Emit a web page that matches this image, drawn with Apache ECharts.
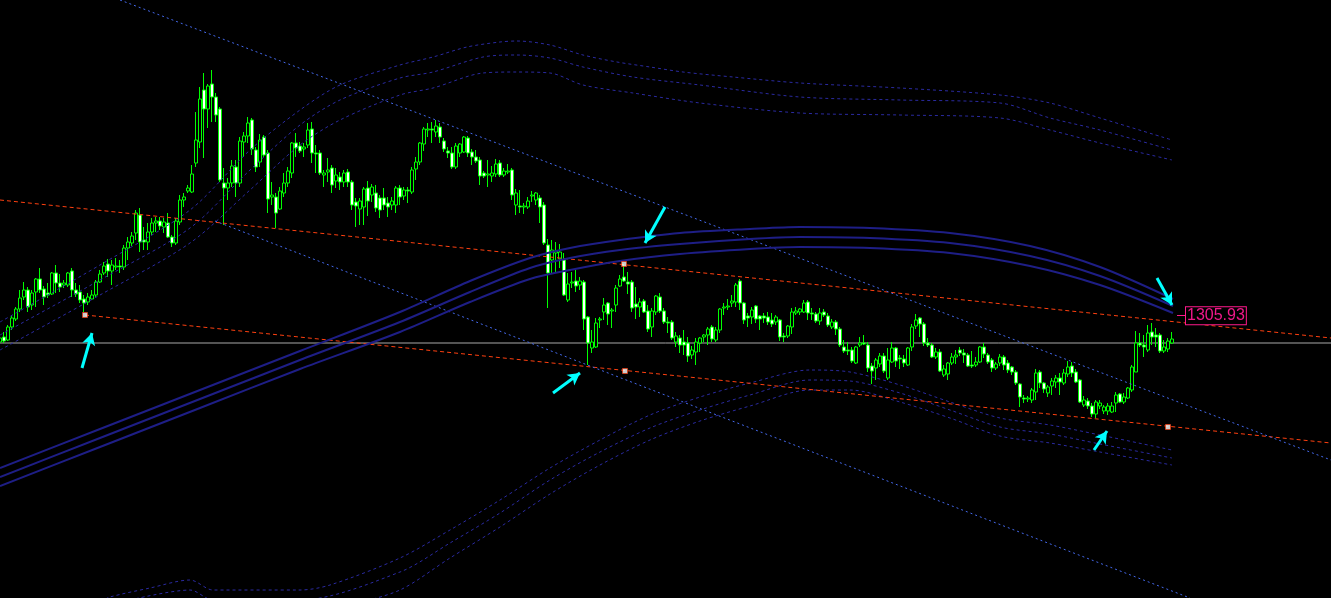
<!DOCTYPE html>
<html><head><meta charset="utf-8">
<script src="https://cdn.jsdelivr.net/npm/echarts@6/dist/echarts.min.js"></script>
<style>html,body{margin:0;padding:0;background:#000;overflow:hidden}#c{width:1331px;height:598px}</style>
</head><body><div id="c"></div>
<script>
// ---- candle data (bar index = position, prices) ----
const opens=[
1303.3,1303.8,1303.5,1304.8,1305.6,1306.6,1307.8,1308.5,1307.0,1308.3,
1309.6,1308.6,1308.2,1308.1,1310.2,1309.2,1309.0,1309.0,1310.4,1308.5,
1308.3,1307.6,1307.3,1307.6,1308.0,1309.3,1310.2,1311.1,1310.4,1310.8,
1310.9,1310.8,1312.7,1313.2,1314.2,1316.0,1313.5,1313.3,1314.3,1315.2,
1315.4,1314.8,1315.2,1313.8,1313.2,1315.3,1317.5,1318.4,1318.3,1321.2,
1323.3,1328.5,1326.6,1329.1,1327.8,1326.6,1319.2,1318.7,1319.2,1320.8,
1319.2,1323.3,1323.9,1325.5,1322.5,1321.3,1323.8,1322.2,1317.8,1317.8,
1316.6,1318.2,1319.2,1320.2,1323.2,1322.9,1322.6,1323.0,1324.6,1322.2,
1322.2,1320.0,1320.3,1320.7,1319.4,1319.8,1319.3,1320.3,1319.3,1317.3,
1316.6,1316.8,1318.7,1318.0,1318.2,1317.7,1317.7,1317.2,1317.0,1317.0,
1318.7,1317.9,1318.5,1318.3,1320.6,1321.3,1323.1,1324.5,1324.6,1324.3,
1324.8,1323.4,1322.4,1322.2,1320.8,1322.2,1322.3,1323.7,1322.3,1321.8,
1321.5,1320.2,1320.0,1319.9,1320.1,1321.2,1320.0,1320.3,1320.5,1317.0,
1316.9,1316.8,1316.8,1317.9,1317.5,1317.7,1317.0,1313.0,1311.5,1312.2,
1311.6,1311.5,1307.5,1309.2,1309.4,1309.0,1309.3,1305.8,1302.7,1302.8,
1305.5,1306.3,1307.2,1306.4,1307.0,1308.9,1309.8,1309.3,1309.3,1307.1,
1306.8,1307.4,1306.4,1304.8,1306.3,1307.8,1306.4,1305.3,1305.3,1303.3,
1303.7,1303.3,1303.2,1302.0,1302.3,1303.2,1303.8,1304.0,1304.8,1303.5,
1304.5,1306.7,1306.8,1307.2,1307.3,1309.4,1307.2,1305.9,1305.8,1306.9,
1305.9,1305.9,1305.8,1305.5,1305.3,1305.5,1303.9,1303.9,1304.8,1306.2,
1306.3,1306.3,1307.3,1306.2,1306.1,1305.4,1306.3,1305.9,1304.8,1305.3,
1304.6,1302.8,1302.5,1302.5,1301.2,1303.0,1303.2,1303.0,1300.9,1300.7,
1301.1,1301.9,1299.7,1301.3,1302.7,1301.7,1301.6,1301.0,1302.8,1304.9,
1305.7,1305.1,1303.2,1303.0,1301.8,1302.3,1300.0,1300.1,1301.2,1301.8,
1302.5,1302.2,1302.0,1301.0,1301.0,1301.3,1302.8,1302.0,1301.5,1300.7,
1301.2,1301.8,1301.2,1300.8,1300.3,1299.1,1297.7,1297.6,1297.5,1298.3,
1300.3,1299.2,1298.2,1298.9,1299.3,1299.7,1299.2,1300.1,1300.9,1300.3,
1299.5,1297.0,1297.4,1296.9,1296.1,1296.9,1296.4,1296.4,1296.3,1297.2,
1298.1,1297.3,1297.7,1298.5,1300.3,1303.2,1303.0,1302.5,1304.3,1304.0,
1304.0,1302.4,1302.6,1303.2];
const closes=[
1303.7,1303.4,1304.8,1305.7,1306.6,1307.7,1308.5,1306.8,1308.2,1309.6,
1308.5,1307.8,1308.0,1310.2,1309.2,1308.8,1309.2,1310.2,1308.5,1308.1,
1307.5,1307.2,1307.8,1308.0,1309.3,1310.1,1310.9,1310.4,1311.0,1310.9,
1310.8,1312.7,1313.3,1313.9,1316.2,1313.3,1313.3,1314.3,1315.2,1315.4,
1314.9,1315.3,1313.8,1313.2,1315.4,1317.5,1317.8,1318.7,1320.1,1323.5,
1327.6,1326.6,1328.9,1327.8,1326.0,1319.5,1318.7,1319.2,1320.9,1319.2,
1323.4,1323.9,1325.2,1322.6,1320.8,1323.5,1322.0,1317.6,1318.0,1316.2,
1318.4,1319.2,1320.4,1323.2,1322.7,1322.4,1322.8,1324.5,1322.2,1322.1,
1320.2,1320.2,1320.5,1319.0,1320.0,1319.3,1320.2,1319.3,1317.0,1316.9,
1317.4,1318.6,1317.4,1318.8,1316.7,1316.5,1317.0,1316.8,1317.4,1318.7,
1317.8,1318.5,1318.4,1320.5,1321.3,1323.2,1324.6,1324.6,1324.5,1324.9,
1323.8,1322.6,1322.2,1320.8,1322.9,1323.1,1323.8,1322.2,1321.8,1321.4,
1319.9,1319.9,1320.1,1320.2,1321.1,1320.0,1320.4,1320.4,1318.0,1318.2,
1316.8,1316.9,1317.4,1318.0,1318.2,1316.8,1313.2,1310.2,1312.5,1312.4,
1312.3,1308.0,1309.1,1309.3,1308.9,1309.4,1305.6,1303.2,1303.3,1305.2,
1305.6,1307.0,1306.1,1306.5,1308.7,1309.6,1309.4,1309.1,1306.7,1306.8,
1307.3,1306.3,1304.6,1306.4,1307.9,1306.4,1305.3,1305.2,1303.7,1303.9,
1303.0,1303.0,1301.9,1302.5,1303.3,1303.7,1304.0,1304.6,1303.6,1304.5,
1306.6,1306.8,1306.9,1307.4,1309.0,1307.2,1305.5,1305.7,1306.5,1305.6,
1305.6,1305.7,1305.3,1305.1,1305.8,1303.8,1303.8,1304.9,1306.3,1306.4,
1306.6,1307.2,1306.2,1306.1,1305.4,1306.2,1306.0,1305.0,1305.3,1304.6,
1303.0,1302.4,1302.4,1301.4,1302.8,1303.2,1303.1,1300.7,1300.4,1301.5,
1301.9,1300.4,1301.5,1302.7,1301.4,1301.6,1301.2,1302.7,1304.8,1305.5,
1305.1,1303.2,1303.0,1301.8,1302.3,1300.4,1300.6,1301.2,1301.8,1302.0,
1302.2,1302.0,1300.9,1300.9,1301.3,1302.8,1302.1,1301.3,1300.7,1301.1,
1301.8,1301.0,1300.5,1300.3,1299.2,1297.8,1297.6,1297.7,1298.5,1300.2,
1299.2,1298.6,1298.8,1299.4,1299.7,1299.3,1300.2,1300.8,1300.2,1299.3,
1297.3,1297.5,1296.9,1296.1,1297.3,1297.2,1296.8,1296.9,1296.9,1298.0,
1297.3,1297.8,1298.7,1300.8,1303.2,1303.0,1302.8,1304.2,1303.8,1303.8,
1302.4,1302.8,1303.4,1303.6];
const highs=[
1303.9,1304.3,1305.0,1305.9,1306.8,1308.5,1309.3,1308.8,1308.5,1309.7,
1310.7,1308.9,1309.2,1310.3,1311.0,1310.1,1309.5,1310.3,1310.7,1309.2,
1309.0,1308.0,1308.2,1308.5,1309.5,1310.5,1311.3,1311.6,1311.5,1311.7,
1311.5,1313.0,1313.8,1314.3,1316.5,1316.7,1314.8,1315.2,1315.7,1315.8,
1315.8,1315.7,1316.2,1314.0,1315.7,1318.0,1318.2,1319.0,1321.0,1326.3,
1328.8,1330.2,1329.1,1330.5,1328.2,1326.8,1320.7,1319.7,1321.5,1321.5,
1323.8,1324.3,1325.8,1325.7,1322.8,1324.1,1324.0,1322.5,1319.3,1318.2,
1318.8,1320.2,1320.8,1323.3,1324.2,1323.3,1323.2,1325.2,1325.3,1323.0,
1322.5,1320.5,1321.7,1321.0,1320.7,1320.3,1320.5,1320.6,1319.5,1317.7,
1317.7,1318.8,1319.4,1319.1,1319.0,1318.0,1318.7,1317.8,1317.8,1318.9,
1319.0,1318.8,1318.8,1320.8,1321.8,1323.3,1324.8,1325.2,1325.3,1325.5,
1325.2,1323.7,1322.8,1322.8,1323.2,1323.2,1323.9,1323.9,1322.6,1322.5,
1321.8,1320.4,1321.5,1320.9,1321.6,1321.5,1320.7,1321.1,1320.7,1318.6,
1318.5,1317.2,1317.8,1318.4,1318.3,1318.0,1317.3,1313.6,1313.5,1313.3,
1313.1,1312.2,1310.2,1310.3,1310.5,1309.8,1309.5,1305.9,1304.5,1305.7,
1305.8,1307.7,1307.3,1306.7,1309.0,1310.0,1311.1,1310.3,1309.5,1308.8,
1307.7,1307.6,1307.0,1306.7,1308.0,1308.2,1306.7,1305.8,1305.5,1304.3,
1304.0,1304.5,1303.8,1302.9,1303.7,1303.8,1304.1,1304.8,1305.0,1304.8,
1306.7,1307.2,1307.6,1308.0,1309.2,1309.6,1307.3,1306.2,1306.8,1307.0,
1306.0,1306.2,1306.3,1306.2,1306.0,1305.6,1304.2,1305.0,1306.7,1306.8,
1306.7,1307.5,1307.5,1306.7,1306.3,1306.7,1306.6,1306.2,1305.6,1305.5,
1304.8,1303.5,1303.3,1302.8,1302.9,1303.8,1304.0,1303.3,1301.2,1301.7,
1302.2,1302.2,1302.7,1303.3,1302.8,1302.0,1302.0,1302.8,1305.1,1306.1,
1305.8,1305.3,1303.7,1303.2,1302.7,1302.6,1301.0,1301.3,1302.2,1302.5,
1302.8,1302.6,1302.2,1302.4,1301.8,1302.9,1303.2,1302.2,1301.7,1301.3,
1302.1,1302.0,1301.5,1300.9,1300.5,1299.2,1298.0,1297.9,1298.7,1300.6,
1300.5,1299.3,1299.0,1299.7,1300.0,1300.2,1300.6,1301.4,1301.3,1300.6,
1299.6,1297.9,1297.7,1297.2,1297.5,1297.5,1297.0,1297.2,1297.3,1298.3,
1298.2,1298.2,1298.8,1301.0,1304.4,1304.2,1304.0,1305.0,1305.2,1304.7,
1304.2,1303.5,1303.7,1304.3];
const lows=[
1303.1,1303.2,1303.4,1304.5,1305.4,1306.3,1307.5,1306.3,1306.5,1306.8,
1308.2,1307.0,1307.7,1308.0,1308.2,1308.3,1308.7,1308.8,1307.8,1307.8,
1307.2,1306.3,1307.0,1307.5,1307.8,1309.2,1310.0,1309.8,1309.0,1310.5,
1310.2,1310.5,1311.5,1312.9,1313.5,1312.3,1312.5,1312.5,1314.0,1314.3,
1314.5,1314.2,1313.7,1312.8,1313.0,1315.0,1316.8,1318.2,1318.2,1320.8,
1322.7,1321.7,1324.7,1325.3,1325.3,1319.3,1315.0,1317.5,1318.8,1317.8,
1318.8,1321.8,1323.2,1322.0,1320.3,1320.8,1321.8,1316.2,1317.0,1314.7,
1316.5,1317.8,1318.8,1319.7,1321.8,1322.2,1321.8,1322.7,1321.2,1320.2,
1320.0,1318.8,1319.3,1318.2,1318.7,1318.5,1318.8,1318.8,1316.5,1314.8,
1315.0,1315.0,1315.9,1317.3,1316.3,1315.7,1316.5,1315.8,1316.5,1316.2,
1317.0,1317.5,1317.2,1318.1,1319.5,1321.0,1322.4,1323.8,1323.2,1323.8,
1323.2,1322.3,1321.7,1320.6,1320.6,1321.8,1322.2,1321.8,1321.0,1321.2,
1319.0,1319.7,1318.8,1319.3,1319.8,1319.8,1319.8,1320.1,1317.5,1316.0,
1316.2,1316.1,1316.6,1317.3,1317.0,1315.2,1313.0,1306.7,1310.2,1310.2,
1310.7,1307.9,1307.3,1308.7,1308.3,1308.5,1304.5,1301.0,1302.2,1302.7,
1304.7,1305.5,1305.0,1304.7,1306.3,1308.8,1309.3,1308.1,1306.3,1305.6,
1305.8,1306.2,1304.3,1303.8,1306.0,1306.2,1305.1,1304.2,1303.5,1302.8,
1302.2,1302.0,1301.3,1301.6,1301.0,1302.3,1303.3,1303.0,1303.3,1303.3,
1304.2,1306.0,1306.5,1306.8,1306.8,1306.5,1305.1,1304.8,1305.1,1305.2,
1304.5,1305.2,1305.0,1304.8,1305.0,1303.4,1303.3,1303.7,1304.1,1306.0,
1306.0,1306.2,1305.5,1305.5,1305.2,1305.0,1305.8,1304.8,1304.6,1304.0,
1302.8,1302.2,1302.0,1301.2,1301.1,1302.8,1303.0,1300.3,1299.1,1299.5,
1300.8,1300.2,1299.5,1301.2,1300.8,1300.6,1300.8,1300.9,1302.4,1304.6,
1303.8,1302.9,1302.8,1301.7,1301.6,1300.3,1299.8,1299.5,1301.0,1301.1,
1301.9,1301.2,1300.8,1300.7,1300.8,1301.2,1301.7,1301.1,1300.3,1300.5,
1300.9,1300.5,1300.2,1300.0,1299.0,1296.8,1297.2,1297.3,1297.2,1297.5,
1298.7,1298.2,1297.8,1298.0,1298.7,1298.0,1299.0,1299.8,1299.8,1299.2,
1297.2,1296.8,1296.6,1295.8,1295.7,1296.6,1296.1,1296.0,1296.2,1296.3,
1297.2,1297.1,1297.6,1298.3,1300.3,1302.8,1301.8,1302.3,1303.0,1302.8,
1302.2,1302.2,1302.3,1303.1];

// ---- indicator envelopes (bar index, price) ----
const bandX=[0,25,50,75,100,117.5,132.5,142.5,155,170,187.5,200,217.5,237.5,257.5,275,293.25];
const bandTop=[1290.7,1294.6,1298.5,1302.4,1306.3,1309.4,1311.7,1312.7,1313.5,1314.2,1314.6,1314.8,1314.7,1314.2,1312.9,1310.8,1307.6];
const bandMid=[1289.8,1293.7,1297.6,1301.5,1305.3,1308.3,1310.7,1311.7,1312.5,1313.1,1313.6,1313.8,1313.7,1313.2,1311.9,1309.9,1306.9];
const bandBot=[1288.9,1292.8,1296.7,1300.6,1304.3,1307.3,1309.6,1310.5,1311.4,1312.1,1312.6,1312.8,1312.7,1312.2,1310.9,1309.0,1306.2];

const upTopX=[0,25,47.5,62.5,75,85,100,108.25,116.75,125,129.25,137.5,145.75,154.25,162.5,170.75,183.25,200,225,250,262.5,275,293];
const upTop=[1305.3,1311.0,1316.5,1322.5,1326.5,1329.0,1331.0,1331.8,1332.8,1333.3,1333.4,1333.0,1332.0,1331.3,1330.8,1330.3,1329.8,1329.2,1328.7,1328.0,1327.2,1325.7,1323.5];
const upX=[0,25,47.5,62.5,75,85,100,108.25,120.75,129.25,137.5,145.75,158.25,175,200,225,250,262.5,275,293];
const upMid=[1304.0,1309.5,1314.7,1320.5,1325.0,1327.5,1329.7,1330.3,1331.8,1332.0,1331.7,1330.8,1329.8,1329.0,1327.8,1327.5,1327.2,1325.7,1324.5,1322.5];
const upBot=[1302.5,1308.0,1313.2,1318.5,1323.0,1325.5,1328.0,1328.7,1330.2,1330.3,1330.2,1329.0,1328.2,1327.2,1326.2,1326.0,1325.7,1324.5,1323.2,1321.5];

const loTopX=[25,27.5,37.5,47.5,53.25,75,82.5,100,112.5,125,137.5,150,162.5,175,187.5,202.5,212.5,225,237.5,250,262.5,275,293];
const loTop=[1277.3,1277.8,1278.7,1279.5,1278.5,1278.5,1279.0,1281.7,1284.5,1287.5,1290.7,1293.5,1296.0,1297.8,1299.2,1300.5,1300.3,1299.0,1297.3,1295.7,1295.0,1294.0,1292.5];
const loMidX=[32.5,47.5,53.25,75,100,112.5,125,137.5,150,162.5,175,187.5,202.5,212.5,225,237.5,250,262.5,275,293];
const loMid=[1277.5,1278.5,1277.5,1277.5,1280.3,1283.2,1286.2,1289.5,1292.3,1294.7,1296.5,1298.0,1299.5,1299.4,1298.2,1296.5,1294.8,1294.1,1293.1,1291.7];
const loBotX=[87.5,100,112.5,125,137.5,150,162.5,175,187.5,202.5,212.5,225,237.5,250,262.5,275,293];
const loBot=[1277.0,1278.5,1281.7,1284.8,1288.1,1291.0,1293.5,1295.4,1296.9,1298.5,1298.5,1297.3,1295.7,1293.9,1293.2,1292.3,1291.0];

// ---- drawn objects ----
const redUpper=[[0,1317.5],[332.75,1303.7]];
const redLower=[[21.25,1306.0],[332.75,1293.2]];
const blueUpper=[[30,1337.5],[332.75,1291.5]];
const blueLower=[[53.75,1315.4],[297.5,1277.7]];
const hLinePrice=1303.2;
const dotX=[21.25,156,156.25,292];
const dotY=[1306.0,1311.1,1300.4,1294.8];
const arrows=[[20.5,1300.7,23,1304.2],[138.25,1298.2,145,1300.2],[166.25,1316.8,161.25,1313.2],[273.5,1292.5,276.75,1294.4],[289.25,1309.7,293,1307.0]];
const priceLabel=1305.93;
const labelX=[294.25,296.5];

const zip=(xs,ys)=>xs.map((x,i)=>[x,ys[i]]);
const n=Math.min(opens.length,closes.length,lows.length,highs.length);
const candles=[];
for(let i=0;i<n;i++) candles.push([i,opens[i],closes[i],lows[i],highs[i]]);

const navy='#1e1e86', navyDot='#2a2aa0', red='#ff4010', blue='#4468ea';
function ln(data,color,width,type,smooth,z){
  return {type:'line',data:data,showSymbol:false,symbol:'none',silent:true,clip:true,smooth:smooth||false,
    lineStyle:{color:color,width:width,type:type},z:z||3,animation:false};
}
const chart=echarts.init(document.getElementById('c'),null,{renderer:'canvas'});
chart.setOption({
  backgroundColor:'#000000',
  animation:false,
  grid:{left:0,right:0,top:0,bottom:0},
  xAxis:{type:'value',min:0,max:332.75,show:false,splitLine:{show:false}},
  yAxis:{type:'value',min:1277.7,max:1337.5,show:false,splitLine:{show:false}},
  series:[
    ln([[0,hLinePrice],[332.75,hLinePrice]],'#a8a8a8',1,'solid',false,1),
    {type:'candlestick',data:candles,barWidth:3,silent:true,z:2,
     encode:{x:0,y:[1,2,3,4]},
     itemStyle:{color:'#000000',color0:'#ffffff',borderColor:'#00ff00',borderColor0:'#00ff00',borderWidth:1}},
    ln(zip(upTopX,upTop),navyDot,1,[3,3],0.3),
    ln(zip(upX,upMid),navyDot,1,[3,3],0.3),
    ln(zip(upX,upBot),navyDot,1,[3,3],0.3),
    ln(zip(loTopX,loTop),navyDot,1,[3,3],0.3),
    ln(zip(loMidX,loMid),navyDot,1,[3,3],0.3),
    ln(zip(loBotX,loBot),navyDot,1,[3,3],0.3),
    ln(zip(bandX,bandTop),navy,2,'solid',0.3,4),
    ln(zip(bandX,bandMid),navy,2,'solid',0.3,4),
    ln(zip(bandX,bandBot),navy,2,'solid',0.3,4),
    ln(redUpper,red,1,[4,3]),
    ln(redLower,red,1,[4,3]),
    ln(blueUpper,blue,1,[2,3]),
    ln(blueLower,blue,1,[2,3]),
    {type:'scatter',data:zip(dotX,dotY),symbol:'rect',symbolSize:5,silent:true,z:6,
     itemStyle:{color:'#ffffff',borderColor:'#ff3300',borderWidth:0.8}},
    {type:'line',data:[],silent:true,z:7,
     markLine:{silent:true,animation:false,symbol:['none','arrow'],symbolSize:[10,12],
       lineStyle:{color:'#00ffff',width:3,type:'solid'},label:{show:false},
       data:arrows.map(a=>[{coord:[a[0],a[1]]},{coord:[a[2],a[3]]}])}},
    {type:'line',data:[],silent:true,z:7,
     markLine:{silent:true,animation:false,symbol:['none','none'],
       lineStyle:{color:'#ff1a8c',width:1,type:'solid'},
       label:{show:true,position:'end',distance:0,formatter:String(priceLabel),color:'#f0188a',
         fontSize:16,fontFamily:'Liberation Sans, Arial, sans-serif',borderColor:'#ff1a8c',borderWidth:1,
         padding:[1,1,0,1],backgroundColor:'#000000'},
       data:[[{coord:[labelX[0],priceLabel]},{coord:[labelX[1],priceLabel]}]]}}
  ]
});
</script>
</body></html>
